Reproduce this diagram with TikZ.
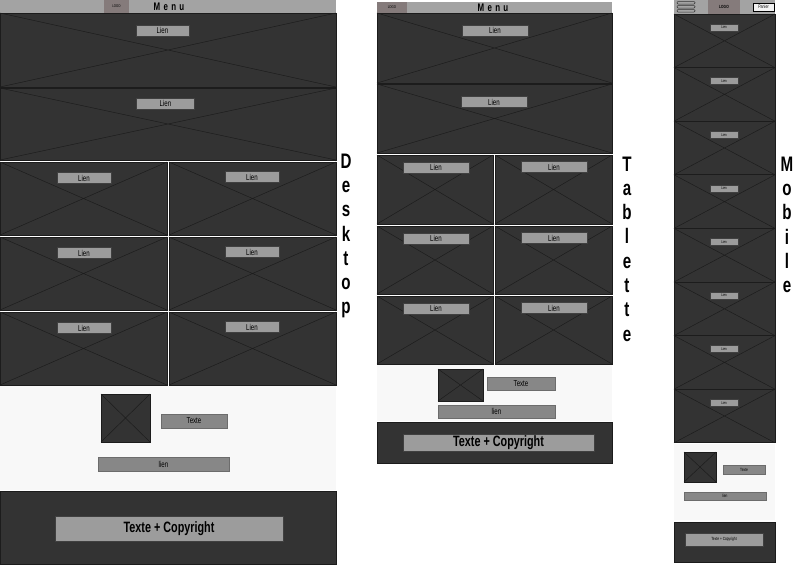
\documentclass[tikz,border=0pt]{standalone}
\usepackage{fontspec}
\setmainfont{Liberation Sans}[FakeStretch=0.72]
\usepackage{xcolor}
\usepackage{tikz}
\usetikzlibrary{positioning}
\definecolor{WireDark}{HTML}{333333}
\definecolor{WireLine}{HTML}{1C1C1C}
\definecolor{WireHead}{HTML}{A3A3A3}
\definecolor{WireLogo}{HTML}{857B7B}
\definecolor{WireBtn}{HTML}{9C9C9C}
\definecolor{WireBtnDark}{HTML}{878787}
\definecolor{WireLight}{HTML}{F8F8F8}
% image placeholder: dark box with a cross
\newcommand{\wireimg}[4]{%
  \draw[img] (#1,#2) rectangle (#3,#4);
  \draw[cross] (#1,#2) -- (#3,#4) (#1,#4) -- (#3,#2);}

\begin{document}
\begin{tikzpicture}[
    x=1pt, y=-1pt,
    img/.style={fill=WireDark, draw=WireLine, line width=0.8pt},
    cross/.style={draw=WireLine, line width=0.5pt},
    band/.style={fill=WireLight, draw=none},
    head/.style={fill=WireHead, draw=none},
    lien/.style={
      rectangle, draw=black!75, fill=WireBtn, line width=0.6pt, inner sep=0pt,
      minimum height=11pt, font=\fontsize{8.5}{9}\selectfont
    },
    lienlow/.style={lien, fill=WireBtnDark, draw=WireBtnDark!80!black},
    vword/.style={align=center, font=\fontsize{21}{24.3}\selectfont\bfseries, inner sep=0pt},
    menu/.style={font=\fontsize{11}{11}\selectfont\bfseries\addfontfeature{LetterSpace=30}, inner sep=0pt}
  ]
    \useasboundingbox (0,0) rectangle (800,566);
    \fill[white] (0,0) rectangle (800,566);

    % ---------- Desktop ----------
    \fill[head] (0,0) rectangle (336,13);
    \fill[WireLogo] (104,0) rectangle (129,13);
    \node[font=\fontsize{4}{4}\selectfont, inner sep=0pt] (dLogo) at (116.5,6.5) {LOGO};
    \node[menu] (dMenu) at (169,6.5) {Menu};
    \wireimg{0}{13}{336}{87}
    \wireimg{0}{88}{336}{160}
    \node[lien, minimum width=53pt] (dHero1) at (162.5,30.5) {Lien};
    \node[lien, minimum width=58pt] (dHero2) at (165.5,103.5) {Lien};
    \foreach \row/\yt/\yb in {0/162/235, 1/237/310, 2/312/385} {
      \wireimg{0}{\yt}{167}{\yb}
      \wireimg{169}{\yt}{336}{\yb}
      \node[lien, minimum width=54pt] (dL\row) at (84,\yt+16) {Lien};
      \node[lien, minimum width=54pt] (dR\row) at (252,\yt+15) {Lien};
    }
    \fill[band] (0,386) rectangle (336,490);
    \wireimg{101}{394}{150}{442}
    \node[lienlow, minimum width=66pt, minimum height=14pt] (dTexte) at (194,421) {Texte};
    \node[lienlow, minimum width=131pt, minimum height=14pt] (dLink) at (163.5,464) {lien};
    \draw[img] (0,491) rectangle (336,564);
    \node[lien, minimum width=228pt, minimum height=25pt,
      font=\fontsize{15}{16}\selectfont\bfseries] (dFoot) at (169,528.5) {Texte + Copyright};
    \node[vword] (dWord) at (346,236) {D\\e\\s\\k\\t\\o\\p};

    % ---------- Tablette ----------
    \fill[head] (377,2) rectangle (612,13);
    \fill[WireLogo] (377,2) rectangle (407,13);
    \node[font=\fontsize{4}{4}\selectfont, inner sep=0pt] (tLogo) at (392,7.5) {LOGO};
    \node[menu] (tMenu) at (493,7.5) {Menu};
    \wireimg{377}{13}{612}{83}
    \wireimg{377}{84}{612}{153}
    \node[lien, minimum width=66pt] (tHero1) at (495,30.5) {Lien};
    \node[lien, minimum width=66pt] (tHero2) at (494,102) {Lien};
    \foreach \row/\yt/\yb in {0/155/224, 1/226/294, 2/296/364} {
      \wireimg{377}{\yt}{493}{\yb}
      \wireimg{495}{\yt}{612}{\yb}
      \node[lien, minimum width=66pt] (tL\row) at (436,\yt+12.5) {Lien};
      \node[lien, minimum width=66pt] (tR\row) at (554,\yt+12) {Lien};
    }
    \fill[band] (377,365) rectangle (612,421);
    \wireimg{438}{369}{483}{401}
    \node[lienlow, minimum width=68pt, minimum height=13pt] (tTexte) at (521,383.5) {Texte};
    \node[lienlow, minimum width=117pt, minimum height=13pt] (tLink) at (496.5,411.5) {lien};
    \draw[img] (377,422) rectangle (612,463);
    \node[lien, minimum width=191pt, minimum height=17pt,
      font=\fontsize{15}{15}\selectfont\bfseries] (tFoot) at (498.5,442.5) {Texte + Copyright};
    \node[vword] (tWord) at (627,249) {T\\a\\b\\l\\e\\t\\t\\e};

    % ---------- Mobile ----------
    \fill[head] (674,0) rectangle (775,14);
    \fill[WireLogo] (708,0) rectangle (740,14);
    \foreach \k in {0,1,2}
      \draw[fill=WireHead, draw=black!80, line width=0.5pt, rounded corners=1pt]
        (677,1.5+4*\k) rectangle (695,4+4*\k);
    \node[font=\fontsize{4.5}{5}\selectfont\bfseries, inner sep=0pt] (mLogo) at (724,7) {LOGO};
    \node[draw=black, fill=white!90!gray, line width=0.5pt, inner sep=0pt,
      minimum width=21pt, minimum height=8pt, font=\fontsize{5}{5}\selectfont] (mCart) at (763.5,7) {Panier};
    \foreach \k [evaluate=\k as \yt using 14+53.6*\k,
                 evaluate=\k as \yb using 67.6+53.6*\k] in {0,...,7} {
      \wireimg{674}{\yt}{775}{\yb}
      \node[lien, minimum width=28pt, minimum height=7pt,
        font=\fontsize{4}{4}\selectfont] (mL\k) at (724,\yt+13.5) {Lien};
    }
    \fill[band] (674,444) rectangle (775,520);
    \wireimg{684}{452}{716}{482}
    \node[lienlow, minimum width=42pt, minimum height=9pt,
      font=\fontsize{4.5}{5}\selectfont] (mTexte) at (744,469.5) {Texte};
    \node[lienlow, minimum width=82pt, minimum height=8pt,
      font=\fontsize{4.5}{5}\selectfont] (mLink) at (725,496) {lien};
    \draw[img] (674,522) rectangle (775,562);
    \node[lien, minimum width=78pt, minimum height=13pt,
      font=\fontsize{4.5}{5}\selectfont] (mFoot) at (724,539.5) {Texte + Copyright};
    \node[vword] (mWord) at (787,225) {M\\o\\b\\i\\l\\e};
  \end{tikzpicture}
\end{document}
